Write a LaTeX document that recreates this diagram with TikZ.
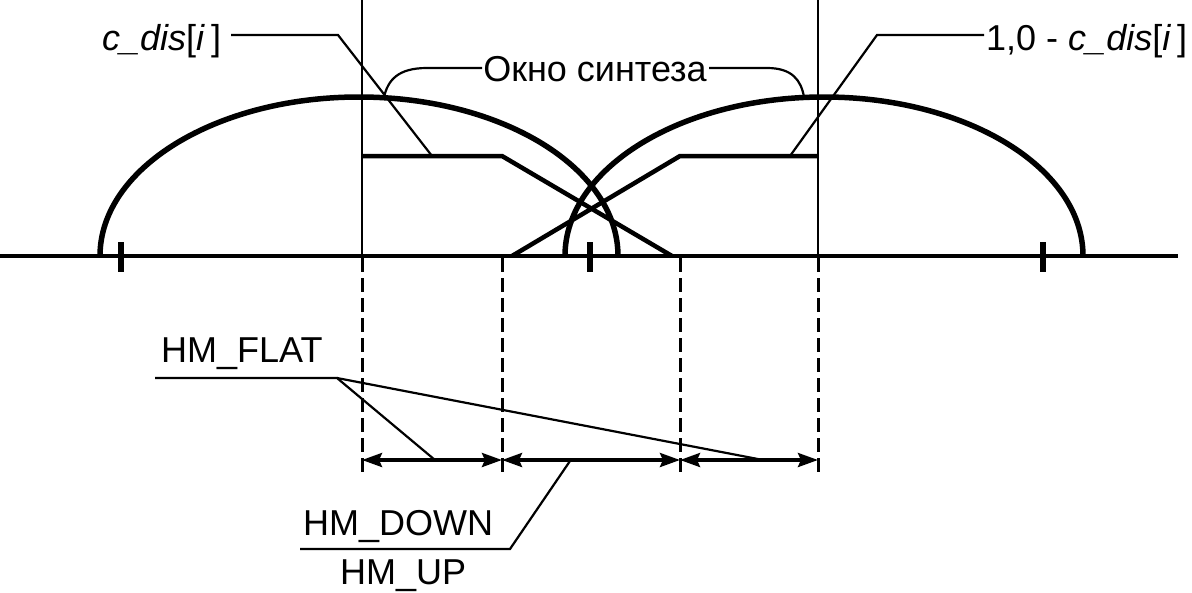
\documentclass[tikz,border=0pt]{standalone}
\usepackage{fontspec}
\setmainfont{Liberation Sans}
\usetikzlibrary{arrows.meta}
\begin{document}
\begin{tikzpicture}[x=1pt,y=-1pt,
  lbl/.style={font=\fontsize{36}{40}\selectfont, inner sep=0pt},
  axisline/.style={line width=4pt},
  tickmark/.style={line width=6pt},
  window/.style={line width=5.5pt},
  trap/.style={line width=4.5pt, line join=miter},
  border/.style={line width=2pt},
  guide/.style={line width=3pt, dash pattern=on 14pt off 6pt},
  leader/.style={line width=2.2pt},
  dimline/.style={line width=3.5pt, {Stealth[length=20pt,width=14pt,inset=3pt]}-{Stealth[length=20pt,width=14pt,inset=3pt]}}
]
\useasboundingbox (0,0) rectangle (1192,592);
% axis
\coordinate (ax0) at (0,256);
\coordinate (ax1) at (1178,256);
\draw[axisline] (ax0) -- (ax1);
% ticks
\foreach \x/\n in {121/ta,590/tb,1043/tc}{
  \coordinate (\n1) at (\x,242);
  \coordinate (\n2) at (\x,272);
  \draw[tickmark] (\n1) -- (\n2);
}
% window borders
\coordinate (b1t) at (362,0);
\coordinate (b1b) at (362,256);
\coordinate (b2t) at (818,0);
\coordinate (b2b) at (818,256);
\draw[border] (b1t) -- (b1b);
\draw[border] (b2t) -- (b2b);
% synthesis windows (half ellipses)
\coordinate (w1s) at (100,256);
\coordinate (w2s) at (565,256);
\draw[window] (w1s) arc[start angle=180, end angle=0, x radius=259pt, y radius=159pt];
\draw[window] (w2s) arc[start angle=180, end angle=0, x radius=259pt, y radius=159pt];
% trapezoids
\coordinate (p1) at (362,156);
\coordinate (p2) at (502,156);
\coordinate (p3) at (672,256);
\draw[trap] (p1) -- (p2) -- (p3);
\coordinate (q1) at (512,256);
\coordinate (q2) at (680,156);
\coordinate (q3) at (818,156);
\draw[trap] (q1) -- (q2) -- (q3);
% dashed guides
\foreach \x/\n in {362/ga,502/gb,680/gc,818/gd}{
  \coordinate (\n1) at (\x,258);
  \coordinate (\n2) at (\x,474);
  \draw[guide] (\n1) -- (\n2);
  \coordinate (\n) at (\x,460);
}
% dimension arrows
\draw[dimline] (ga) -- (gb);
\draw[dimline] (gb) -- (gc);
\draw[dimline] (gc) -- (gd);
% labels
\node[lbl, anchor=base west] (cdis) at (102,50) {\textit{c\_dis}[\textit{i}\,]};
\node[lbl, anchor=base west] (cdisc) at (986,50) {1,0 - \textit{c\_dis}[\textit{i}\,]};
\node[lbl, anchor=base] (okno) at (595,81) {Окно синтеза};
\node[lbl, anchor=base west] (flat) at (161,362) {HM\_FLAT};
\node[lbl, anchor=base west] (down) at (303,535) {HM\_DOWN};
\node[lbl, anchor=base west] (up) at (340,584) {HM\_UP};
% leaders top
\coordinate (c1a) at (231,35);
\coordinate (c1b) at (338,35);
\coordinate (c1c) at (432,156);
\draw[leader] (c1a) -- (c1b) -- (c1c);
\coordinate (c2a) at (984,35);
\coordinate (c2b) at (877,35);
\coordinate (c2c) at (790,156);
\draw[leader] (c2a) -- (c2b) -- (c2c);
\coordinate (o1a) at (482,68);
\coordinate (o1b) at (427,68);
\coordinate (o1c) at (384,97);
\draw[leader] (o1a) -- (o1b) .. controls (398,68) and (388,80) .. (o1c);
\coordinate (o2a) at (709,68);
\coordinate (o2b) at (767,68);
\coordinate (o2c) at (804,97);
\draw[leader] (o2a) -- (o2b) .. controls (792,68) and (801,80) .. (o2c);
% leaders bottom
\coordinate (f0) at (155,378);
\coordinate (f1) at (337,378);
\coordinate (f2) at (435,460);
\coordinate (f3) at (763,460);
\draw[leader] (f0) -- (f1) -- (f2);
\draw[leader] (f1) -- (f3);
\coordinate (h0) at (300,549);
\coordinate (h1) at (510,549);
\coordinate (h2) at (570,461);
\draw[leader] (h0) -- (h1) -- (h2);
\end{tikzpicture}
\end{document}
